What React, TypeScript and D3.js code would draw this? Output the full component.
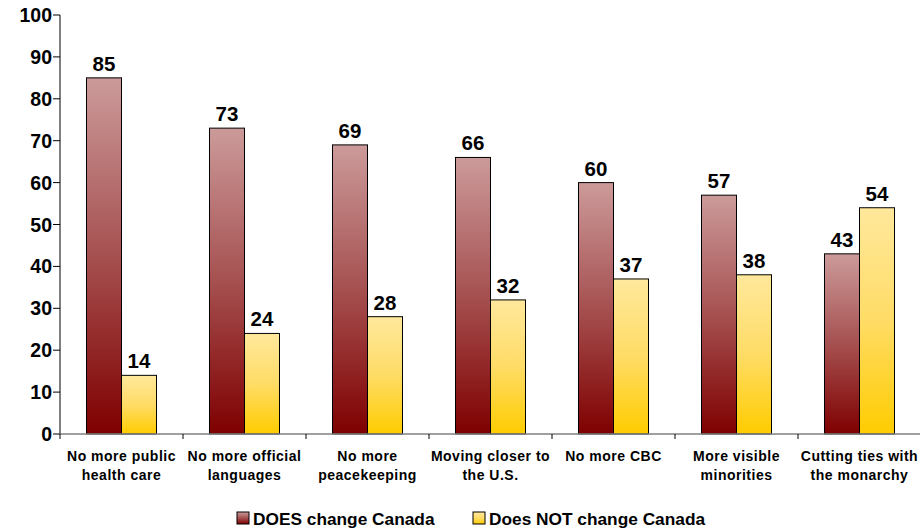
import React from "react";
import * as d3 from "d3";

const categories: string[][] = [
  ["No more public", "health care"],
  ["No more official", "languages"],
  ["No more", "peacekeeping"],
  ["Moving closer to", "the U.S."],
  ["No more CBC"],
  ["More visible", "minorities"],
  ["Cutting ties with", "the monarchy"],
];
const doesChange = [85, 73, 69, 66, 60, 57, 43];
const doesNotChange = [14, 24, 28, 32, 37, 38, 54];
const seriesNames = ["DOES change Canada", "Does NOT change Canada"];
const yTicks = [0, 10, 20, 30, 40, 50, 60, 70, 80, 90, 100];

const W = 920;
const H = 531;
const FONT = "Arial, 'Liberation Sans', Helvetica, sans-serif";

export default function App() {
  const left = 60;
  const right = 921;
  const top = 15;
  const bottom = 434;
  const y = d3.scaleLinear().domain([0, 100]).range([bottom, top]);
  const x = d3
    .scaleBand<number>()
    .domain(categories.map((_, i) => i))
    .range([left, right])
    .paddingInner(0)
    .paddingOuter(0);
  const bw = x.bandwidth();
  const barW = bw * 0.2846;
  const series = [doesChange, doesNotChange];
  const grads = ["gRed", "gYel"];

  return (
    <svg
      width={W}
      height={H}
      style={{ position: "absolute", left: 0, top: 0, background: "#fff" }}
      fontFamily={FONT}
    >
      <defs>
        <linearGradient id="gRed" x1="0" y1="0" x2="0" y2="1">
          <stop offset="0" stopColor="#cc9a9a" />
          <stop offset="0.5" stopColor="#a65050" />
          <stop offset="1" stopColor="#7f0000" />
        </linearGradient>
        <linearGradient id="gYel" x1="0" y1="0" x2="0" y2="1">
          <stop offset="0" stopColor="#ffe89c" />
          <stop offset="0.5" stopColor="#ffdc66" />
          <stop offset="1" stopColor="#ffcc00" />
        </linearGradient>
      </defs>

      {/* y axis */}
      <line x1={left} x2={left} y1={top} y2={bottom} stroke="#000" strokeWidth={1} />
      {yTicks.map((t) => (
        <g key={t}>
          <line x1={left - 7} x2={left} y1={y(t)} y2={y(t)} stroke="#000" />
          <text
            x={left - 8}
            y={y(t)}
            dy="0.36em"
            textAnchor="end"
            fontSize={19.5}
            fontWeight="bold"
            fill="#000"
          >
            {t}
          </text>
        </g>
      ))}

      {/* bars */}
      {categories.map((_, i) => {
        const cx = (x(i) as number) + bw / 2;
        return series.map((s, k) => {
          const bx = cx - barW + k * barW;
          const by = y(s[i]);
          return (
            <g key={`${i}-${k}`}>
              <rect
                x={bx}
                y={by}
                width={barW}
                height={bottom - by}
                fill={`url(#${grads[k]})`}
                stroke="#000"
                strokeWidth={1}
              />
              <text
                x={bx + barW / 2}
                y={by - 7}
                textAnchor="middle"
                fontSize={20.5}
                fontWeight="bold"
                fill="#000"
              >
                {s[i]}
              </text>
            </g>
          );
        });
      })}

      {/* x axis */}
      <line x1={left} x2={W} y1={bottom} y2={bottom} stroke="#808080" strokeWidth={1.5} />
      {categories.map((_, i) => (
        <line
          key={i}
          x1={x(i) as number}
          x2={x(i) as number}
          y1={bottom}
          y2={bottom + 5}
          stroke="#000"
        />
      ))}
      {categories.map((lines, i) => (
        <text
          key={i}
          x={(x(i) as number) + bw / 2}
          y={461}
          textAnchor="middle"
          fontSize={14}
          letterSpacing={0.5}
          fontWeight="bold"
          fill="#000"
        >
          {lines.map((l, j) => (
            <tspan key={j} x={(x(i) as number) + bw / 2} dy={j === 0 ? 0 : 18.5}>
              {l}
            </tspan>
          ))}
        </text>
      ))}

      {/* legend */}
      {seriesNames.map((n, k) => {
        const lx = [237, 473][k];
        return (
          <g key={n}>
            <rect x={lx} y={512} width={12} height={12} fill={`url(#${grads[k]})`} stroke="#000" />
            <text x={lx + 16} y={525} fontSize={17.3} fontWeight="bold" fill="#000">
              {n}
            </text>
          </g>
        );
      })}
    </svg>
  );
}
